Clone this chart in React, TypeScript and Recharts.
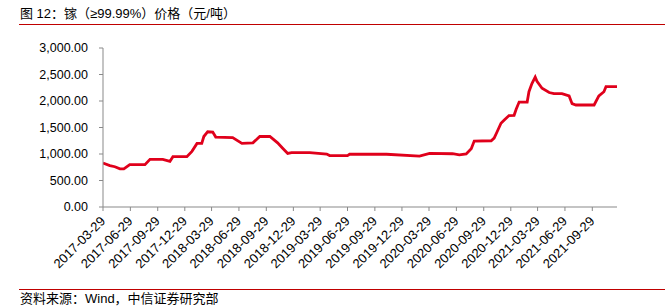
import { CartesianGrid, Line, LineChart, XAxis, YAxis } from "recharts";

const dates = [
  "2017-03-29", "2017-04-21", "2017-05-08", "2017-05-25", "2017-06-07", "2017-06-27",
  "2017-08-17", "2017-09-03", "2017-10-16", "2017-11-09", "2017-11-19", "2018-01-05",
  "2018-01-22", "2018-02-08", "2018-02-24", "2018-03-03", "2018-03-16", "2018-04-02",
  "2018-04-12", "2018-06-08", "2018-07-09", "2018-08-15", "2018-09-07", "2018-10-11",
  "2018-11-06", "2018-11-23", "2018-12-10", "2018-12-23", "2019-02-22", "2019-04-20",
  "2019-04-30", "2019-06-29", "2019-07-06", "2019-11-07", "2020-02-26", "2020-03-31",
  "2020-06-16", "2020-07-09", "2020-08-01", "2020-08-18", "2020-08-28", "2020-10-24",
  "2020-11-03", "2020-11-13", "2020-11-26", "2020-12-07", "2020-12-23", "2021-01-09",
  "2021-01-16", "2021-01-26", "2021-02-22", "2021-02-28", "2021-03-10", "2021-03-21",
  "2021-03-27", "2021-04-13", "2021-05-07", "2021-05-23", "2021-06-19", "2021-07-13",
  "2021-07-23", "2021-08-05", "2021-10-05", "2021-10-21", "2021-11-07", "2021-11-14",
  "2021-12-21",
];

const prices = [
  830, 780, 760, 720, 720, 800,
  800, 900, 900, 860, 950, 950,
  1050, 1200, 1200, 1330, 1420, 1415,
  1320, 1310, 1200, 1210, 1330, 1330,
  1210, 1110, 1010, 1025, 1025, 1000,
  970, 970, 995, 995, 960, 1010,
  1005, 985, 1000, 1100, 1245, 1250,
  1300, 1420, 1580, 1640, 1725, 1730,
  1845, 1980, 1980, 2175, 2330, 2450,
  2370, 2240, 2160, 2140, 2140, 2095,
  1950, 1925, 1925, 2095, 2175, 2270,
  2270,
];

const tickDates = [
  "2017-03-29", "2017-06-29", "2017-09-29", "2017-12-29",
  "2018-03-29", "2018-06-29", "2018-09-29", "2018-12-29",
  "2019-03-29", "2019-06-29", "2019-09-29", "2019-12-29",
  "2020-03-29", "2020-06-29", "2020-09-29", "2020-12-29",
  "2021-03-29", "2021-06-29", "2021-09-29",
];

const yTicks = [0, 500, 1000, 1500, 2000, 2500, 3000];

const toTime = (s: string) => Date.parse(s + "T00:00:00Z");
const fmtDate = (t: number) => new Date(t).toISOString().slice(0, 10);

const data = dates.map((d, i) => ({ time: toTime(d), price: prices[i] }));
const xTicks = tickDates.map(toTime);

const axisColor = "#898989";
const font = '"Liberation Sans", Arial, "Noto Sans CJK SC", sans-serif';

function DateTick(props: any) {
  const { x, y, payload } = props;
  return (
    <g transform={`translate(${x + 3},${y + 9})`}>
      <text
        x={0}
        y={0}
        transform="rotate(-45)"
        textAnchor="end"
        fontSize={13}
        fill="#000"
        fontFamily={font}
      >
        {fmtDate(payload.value)}
      </text>
    </g>
  );
}

export default function App() {
  return (
    <div
      style={{
        position: "relative",
        width: 671,
        height: 308,
        background: "#fff",
        fontFamily: font,
        overflow: "hidden",
      }}
    >
      <style>{`body{margin:0}`}</style>
      <div
        style={{
          position: "absolute",
          left: 20,
          top: 6,
          fontSize: 13,
          lineHeight: "16px",
          color: "#000",
          whiteSpace: "nowrap",
        }}
      >
        图 12：镓（≥99.99%）价格（元/吨）
      </div>
      <div
        style={{
          position: "absolute",
          left: 19,
          top: 24,
          width: 646,
          height: 1,
          background: "#c00000",
        }}
      />
      <div style={{ position: "absolute", left: 0, top: 0 }}>
        <LineChart
          width={671}
          height={285}
          data={data}
          margin={{ top: 48, right: 54, bottom: 0, left: 0 }}
        >
          <CartesianGrid stroke="none" />
          <XAxis
            dataKey="time"
            type="number"
            scale="linear"
            domain={[toTime("2017-03-29"), toTime("2021-12-21")]}
            ticks={xTicks}
            interval={0}
            height={78}
            stroke={axisColor}
            tickSize={4}
            tick={<DateTick />}
            allowDataOverflow
          />
          <YAxis
            type="number"
            domain={[0, 3000]}
            ticks={yTicks}
            width={103}
            stroke={axisColor}
            tickSize={4}
            tickMargin={11}
            tick={{ fill: "#000", fontSize: 12.5, fontFamily: font }}
            tickFormatter={(v: number) =>
              v.toLocaleString("en-US", {
                minimumFractionDigits: 2,
                maximumFractionDigits: 2,
              })
            }
          />
          <Line
            type="linear"
            dataKey="price"
            stroke="#e0001b"
            strokeWidth={2.8}
            dot={false}
            activeDot={false}
            isAnimationActive={false}
          />
        </LineChart>
      </div>
      <div
        style={{
          position: "absolute",
          left: 19,
          top: 289,
          width: 646,
          height: 1,
          background: "#c00000",
        }}
      />
      <div
        style={{
          position: "absolute",
          left: 20,
          top: 291,
          fontSize: 13,
          lineHeight: "16px",
          color: "#000",
          whiteSpace: "nowrap",
        }}
      >
        资料来源：Wind，中信证券研究部
      </div>
    </div>
  );
}
